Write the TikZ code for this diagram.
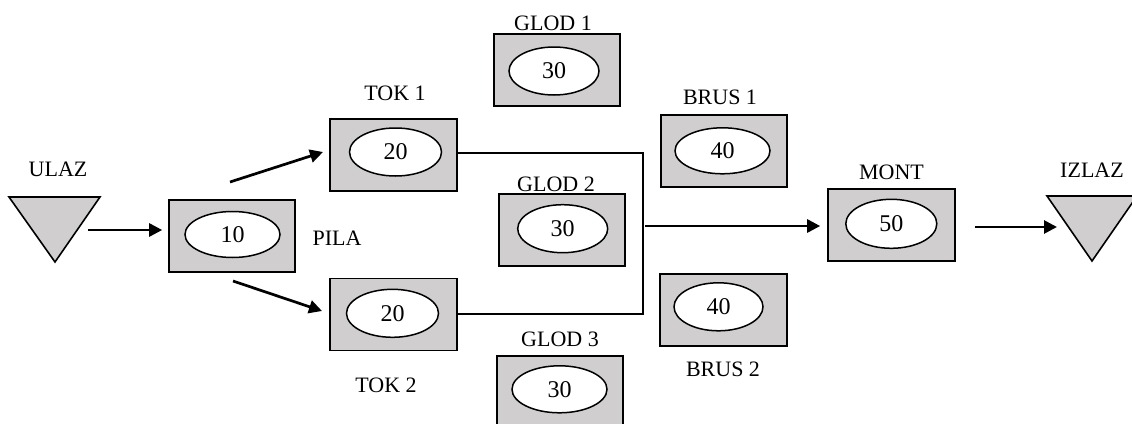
\documentclass[tikz,border=0pt]{standalone}
\usepackage{fontspec}
\setmainfont{Liberation Serif}
\usetikzlibrary{shapes.geometric,arrows.meta}
\definecolor{boxgray}{HTML}{D0CECE}
\begin{document}
\begin{tikzpicture}[x=1pt,y=-1pt,
  station/.style={draw, fill=boxgray, line width=1.6pt, minimum width=126pt, minimum height=72pt, inner sep=0pt},
  oval/.style={ellipse, draw, fill=white, line width=1.5pt, minimum width=92pt, minimum height=48pt, inner sep=0pt, font=\fontsize{24}{26}\selectfont},
  lab/.style={inner sep=0pt, text height=14.5pt, text depth=0pt, font=\fontsize{22}{24}\selectfont},
  flow/.style={line width=2.7pt, -{Triangle[length=13pt,width=13pt]}},
  link/.style={line width=2.7pt},
  sink/.style={draw, fill=boxgray, line width=1.6pt, line join=miter}]
\useasboundingbox (0,0) rectangle (1132,423);

% input / output
\draw[sink] (9,197) -- (100,197) -- (55,262) -- cycle;
\draw[sink] (1047,196) -- (1137,196) -- (1092,261) -- cycle;
\node[lab] (lulaz) at (58,169) {ULAZ};
\node[lab] (lizlaz) at (1092,170) {IZLAZ};

% stations
\node[station] (pila) at (232,236) {};
\node[oval, minimum width=95pt, minimum height=46pt] (pilao) at (232.5,234.5) {10};
\node[lab] (lpila) at (337,238) {PILA};

\node[station, minimum width=127pt] (tok1) at (393.5,155) {};
\node[oval] (tok1o) at (395.5,152) {20};
\node[lab] (ltok1) at (395,93) {TOK 1};

\node[station, minimum width=127pt] (tok2) at (393.5,314.5) {};
\node[oval] (tok2o) at (392.5,313.3) {20};
\node[lab] (ltok2) at (386,385) {TOK 2};

\node[station] (glod1) at (557,70) {};
\node[oval, minimum width=90pt] (glod1o) at (554,71) {30};
\node[lab] (lglod1) at (553,23) {GLOD 1};

\node[station] (glod2) at (562,230) {};
\node[oval, minimum width=90pt] (glod2o) at (562.7,228.7) {30};
\node[lab] (lglod2) at (556,184.5) {GLOD 2};

\node[station] (glod3) at (560,392) {};
\node[oval, minimum width=95pt, minimum height=47pt] (glod3o) at (559.5,389.3) {30};
\node[lab] (lglod3) at (560,339.5) {GLOD 3};

\node[station] (brus1) at (724,151) {};
\node[oval, minimum width=95pt, minimum height=46pt] (brus1o) at (722.5,150.8) {40};
\node[lab] (lbrus1) at (720,97) {BRUS 1};

\node[station, minimum width=127pt] (brus2) at (723.5,310) {};
\node[oval, minimum width=89pt] (brus2o) at (718.5,306.8) {40};
\node[lab] (lbrus2) at (723,369) {BRUS 2};

\node[station, minimum width=127pt] (mont) at (891.5,225) {};
\node[oval, minimum width=91pt, minimum height=49pt] (monto) at (891.3,223.8) {50};
\node[lab] (lmont) at (891.5,172) {MONT};

% connector end points
\coordinate (ulazout) at (88,230);
\coordinate (pilaup) at (230,182);
\coordinate (pilaupend) at (323,152);
\coordinate (piladown) at (233,281);
\coordinate (piladownend) at (322,311);
\coordinate (join1) at (643,153);
\coordinate (join2) at (643,314);
\coordinate (mergeout) at (645,226);
\coordinate (montout) at (975,227);
\coordinate (izlazin) at (1057,227);

% connectors
\draw[flow, shorten >=6pt] (ulazout) -- (ulazout -| pila.west);
\draw[flow] (pilaup) -- (pilaupend);
\draw[flow] (piladown) -- (piladownend);
\draw[link] (tok1.east |- join1) -- (join1) -- (join2) -- (tok2.east |- join2);
\draw[flow, shorten >=7pt] (mergeout) -- (mergeout -| mont.west);
\draw[flow] (montout) -- (izlazin);
\end{tikzpicture}
\end{document}
